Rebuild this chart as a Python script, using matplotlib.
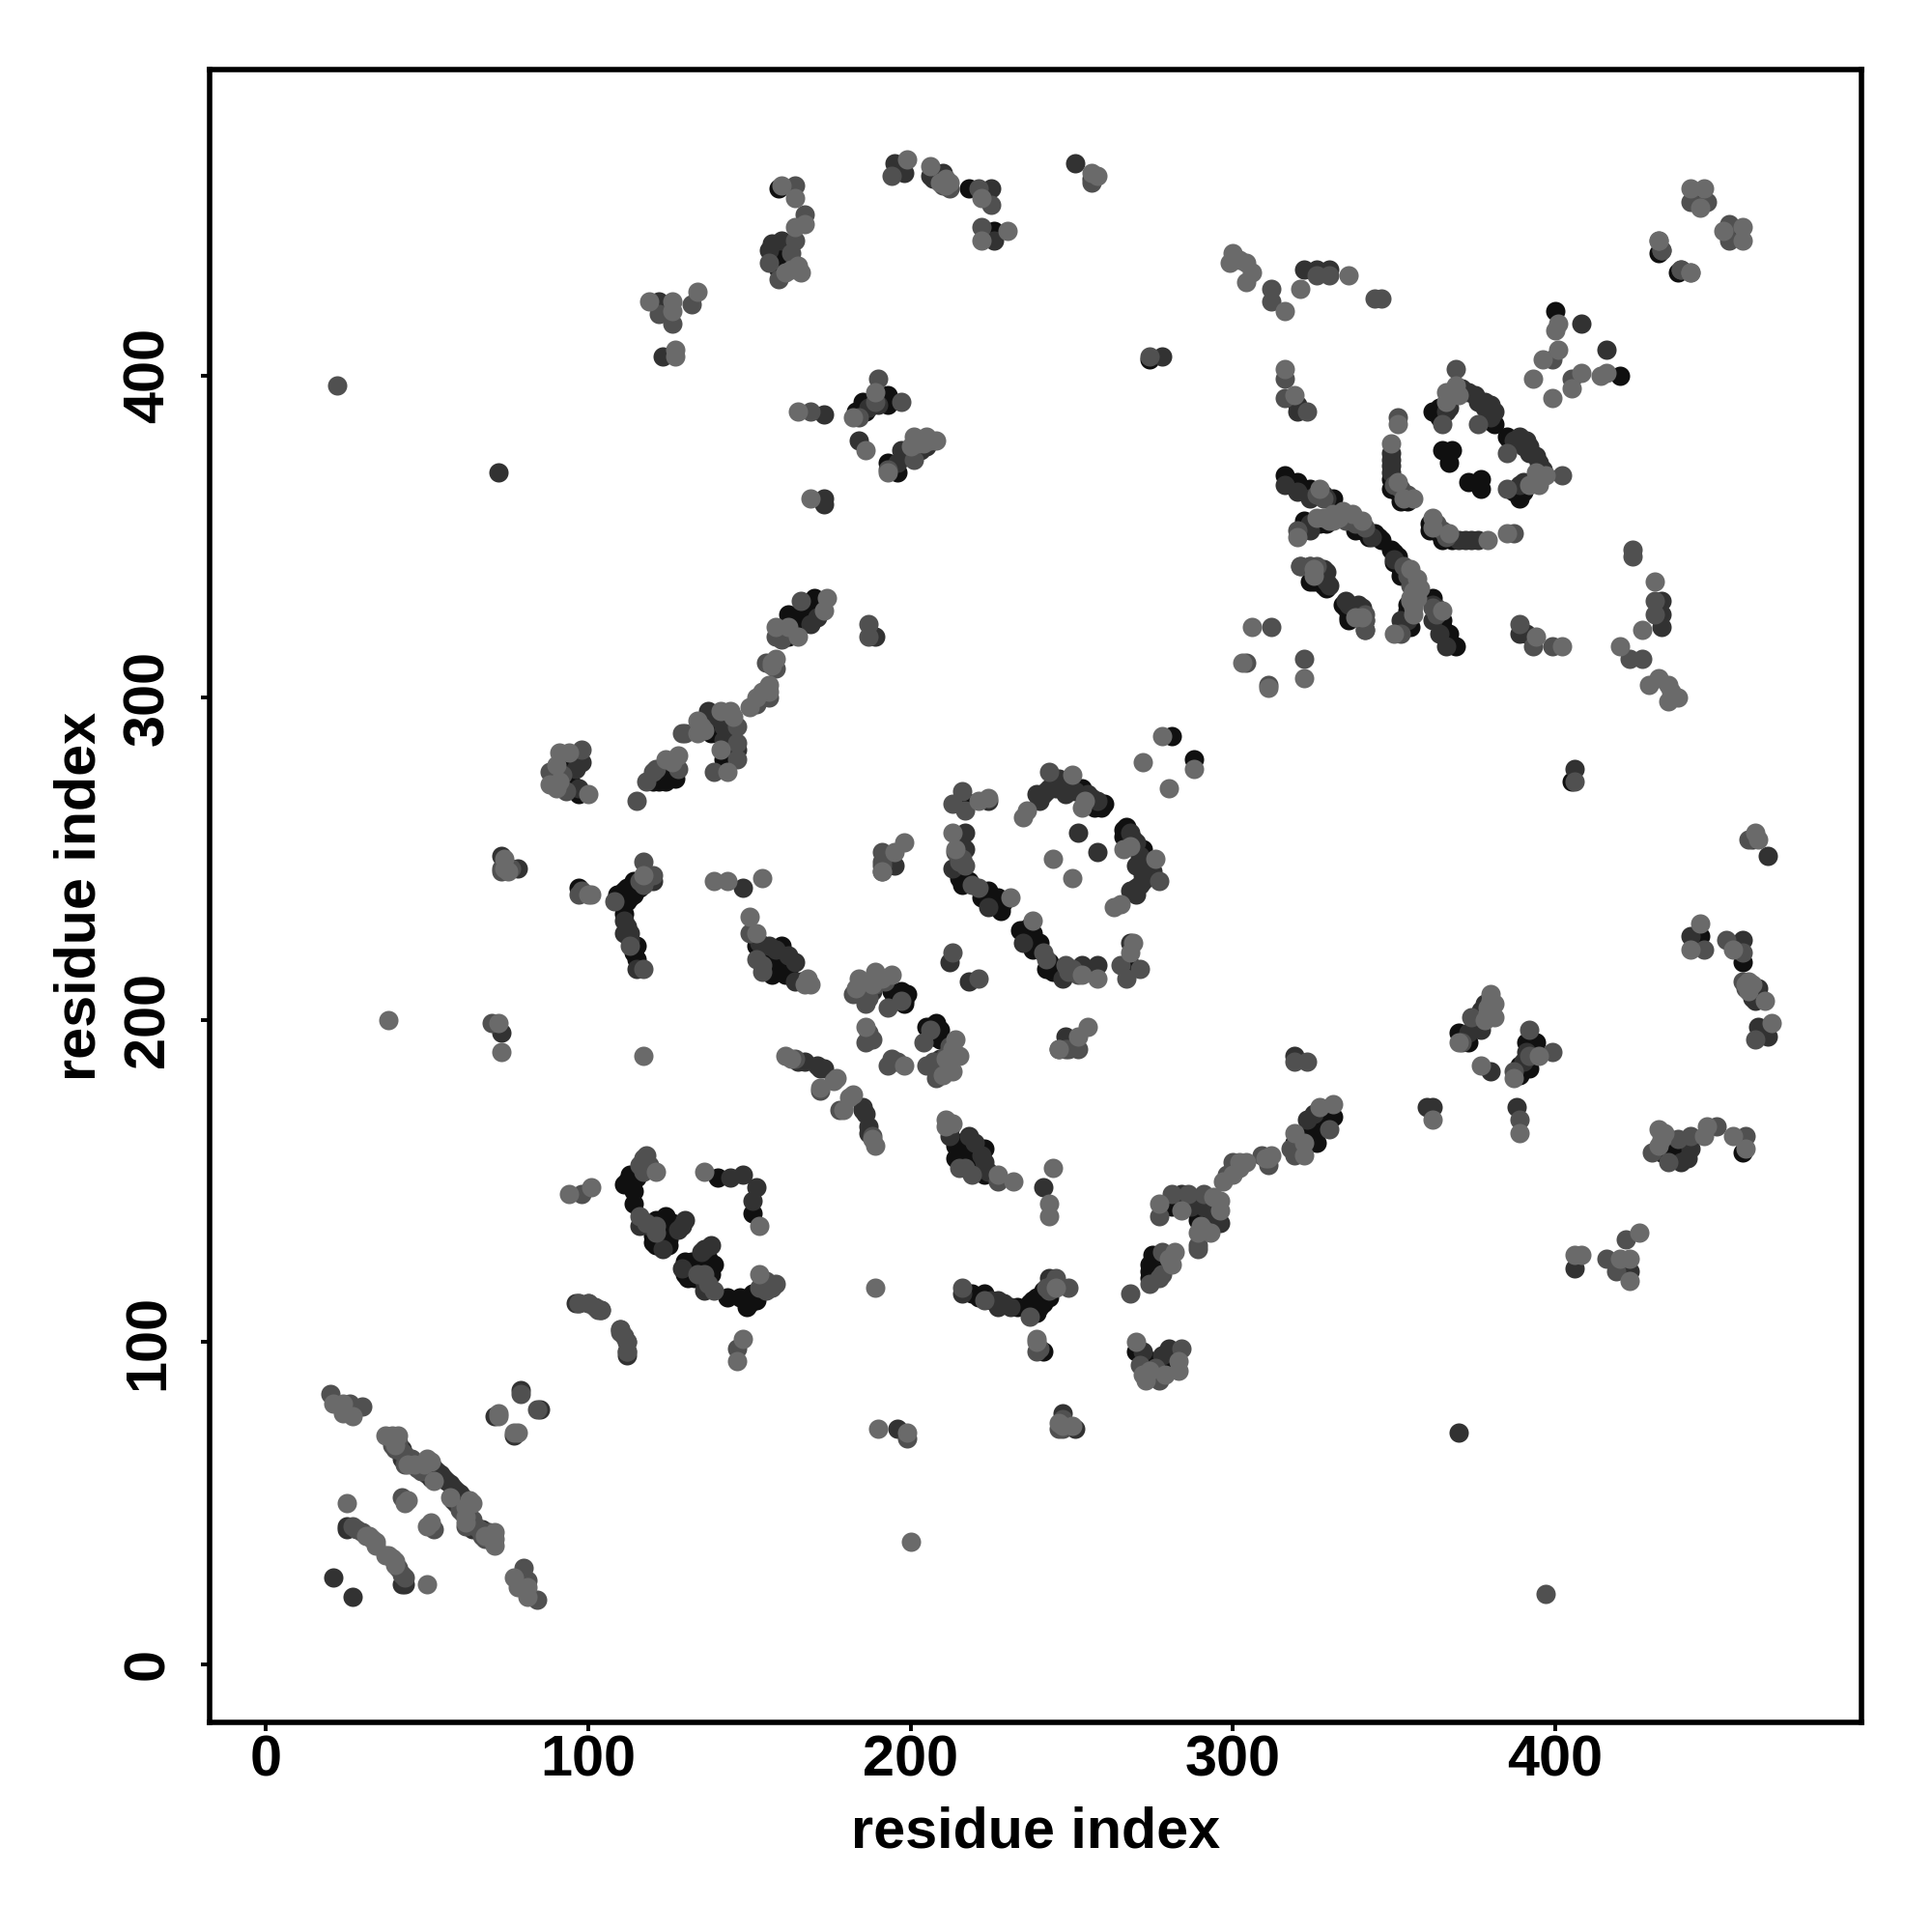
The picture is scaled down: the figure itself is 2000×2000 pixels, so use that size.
import matplotlib
matplotlib.use('Agg')
import matplotlib.pyplot as plt

plt.rcParams['font.family'] = ['Liberation Sans', 'DejaVu Sans']
plt.rcParams['font.weight'] = 'bold'

# contacts as (residue i, residue j) with i < j, the map is symmetric
black_pairs = [(94,280),(94,276),(97,270),(120,274),(124,274),(123,278),(137,292),(138,289),(142,281),
    (162,319),(162,326),(170,331),(169,327),(165,324),(97,241),(114,243),(112,241),(111,240),(109,239),
    (115,241),(113,238),(109,238),(111,233),(115,223),(115,219),(152,223),(156,218),(157,214),(160,223),
    (160,218),(161,214),(281,288),(253,272),(217,268),(215,244),(216,242),(224,240),(227,238),(228,234),
    (260,267),(198,205),(197,209),(194,209),(198,206),(365,377),(368,377),(367,373),(363,389),(365,388),
    (362,389),(380,386),(349,368),(349,365),(352,361),(354,361),(316,369),(320,367),(324,365),(331,362),
    (344,351),(338,352),(327,354),(324,336),(328,335),(335,329),(334,329),(336,325),(159,437),(159,433),
    (159,458),(218,458),(226,445),(193,394),(185,392),(183,389),(193,391),(193,373),(196,370),(111,149),
    (114,143),(115,152),(121,138),(124,139),(125,130),(120,133),(140,151),(113,149),(115,151),(400,420),
    (444,454),(432,438),(274,405),
    (351,364),(364,387),(364,390),(381,385),(318,366),(322,365),(322,355),(323,353),(329,354),(340,352),
    (342,350),(345,350),(346,349),(325,337),(337,328),(338,327),(259,266),(257,266),(218,243),(222,238),
    (225,238),(226,236),(228,235),(229,237),(186,389),(187,391),(188,392),(189,393),(191,393),(184,388),
    (194,372),(112,150),(113,152),(114,147),(122,136),(122,131),(123,131),(126,137),(127,136),(125,132),
    (120,131),(121,130),(122,135),(127,135),(155,220),(158,216),(159,219),(162,215),(110,238),(112,237),
    (114,239),(116,241),(114,221),(95,273),(93,281),(121,275),(122,274),(125,276),(127,275),(139,291),
    (140,289),(144,282),(160,321),(164,321),(166,326),(168,329),(171,329),(195,207),(196,208),(199,208),
    (157,436),(160,435),(161,438)]

dark_pairs = [(98,280),(97,272),(137,296),(142,291),(142,287),(146,284),(169,323),(189,319),(120,243),
    (111,231),(113,227),(111,227),(115,216),(148,241),(195,248),(156,223),(164,218),(164,212),(244,273),
    (241,270),(239,270),(240,268),(249,272),(258,268),(224,268),(217,258),(217,253),(224,235),(252,258),
    (212,218),(185,208),(172,185),(165,187),(173,185),(349,376),(349,372),(367,392),(373,395),(376,392),
    (380,391),(380,387),(320,391),(320,389),(320,364),(316,366),(324,362),(324,354),(324,352),(343,350),
    (328,340),(329,336),(339,329),(195,466),(198,463),(206,462),(210,463),(225,458),(226,442),(251,466),
    (256,461),(160,442),(156,439),(187,390),(190,391),(184,380),(205,378),(197,377),(196,373),(173,362),
    (173,360),(173,388),(122,423),(123,406),(322,433),(326,433),(330,433),(278,406),(408,416),(116,136),
    (130,138),(128,135),(144,151),(71,77),(79,85),(73,196),(73,251),(78,247),(72,370),(25,42),(21,27),
    (42,67),(51,60),(53,60),(52,59),(55,58),(43,25),(213,247),(148,152),
    (112,96),(50,59),(51,58),(42,64),(52,61),(54,59),(56,57),(366,389),(367,390),(371,396),(375,394),
    (378,392),(378,390),(381,389),(328,363),(329,362),(327,338),(330,335),(340,326),(243,272),(242,271),
    (245,272),(246,275),(247,273),(248,270),(251,271),(255,270),(256,269),(216,254),(198,375),(199,376),
    (203,377),(119,136),(129,136),(153,224),(162,220),(158,222),(166,212),(112,229),(113,225),(96,278),
    (139,294),(143,293),(144,288),(138,295),(171,325),(188,209),(207,461),(208,463),(157,441),(349,370),
    (349,374),(123,129),(171,186),(167,187)]

mid_pairs = [(98,284),(88,277),(93,271),(115,268),(120,277),(128,278),(118,274),(129,289),(130,289),(146,291),
    (146,286),(146,281),(139,277),(156,300),(155,311),(158,319),(166,330),(187,323),(187,319),(117,249),
    (120,245),(116,243),(108,237),(113,223),(117,216),(191,252),(191,249),(150,227),(152,219),(154,215),
    (243,277),(216,271),(213,267),(217,265),(215,249),(219,242),(182,208),(186,205),(189,211),(188,194),
    (186,193),(246,191),(248,191),(213,221),(351,387),(352,365),(354,363),(369,402),(365,385),(376,385),
    (316,399),(316,393),(323,389),(320,352),(328,362),(341,353),(321,341),(324,341),(341,324),(341,321),
    (312,322),(304,311),(164,459),(167,450),(164,442),(156,435),(163,438),(159,430),(194,462),(212,458),
    (210,459),(221,458),(225,453),(222,446),(126,416),(122,419),(132,422),(190,399),(197,392),(169,389),
    (201,374),(256,460),(312,427),(312,423),(326,431),(330,431),(344,424),(346,424),(274,406),(399,405),
    (442,454),(447,454),(433,439),(439,433),(118,158),(116,139),(121,134),(22,397),(20,84),
    (26,81),(30,80),(39,68),(40,67),(43,65),(48,60),(28,42),(30,41),(42,52),(70,199),(79,84),(112,97),
    (97,112),(104,110),(98,146),(117,153),(178,172),
    (100,112),(102,111),(110,104),(112,100),(110,103),(98,240),(97,239),(73,247),(76,247),(73,246),
    (158,309),(152,298),(41,69),(42,66),(45,64),(47,61),(43,62),(27,43),(350,366),(326,363),(335,355),
    (338,354),(326,341),(216,250),(214,252),(217,248),(221,241),(184,387),(189,392),(193,371),(116,155),
    (119,155),(117,157),(121,136),(118,137),(154,217),(117,242),(118,244),(119,245),(92,276),(121,278),
    (160,318),(186,210),(187,207),(192,212),(197,206),(184,209),(193,204),(186,206),(187,196),(186,208),
    (164,188)]

light_pairs = [(91,283),(94,283),(90,279),(88,273),(100,270),(124,281),(128,282),(134,293),(134,289),
    (141,296),(144,296),(145,294),(141,284),(143,277),(150,297),(152,300),(156,304),(158,312),(157,311),
    (158,322),(165,319),(174,331),(173,327),(162,322),(117,245),(139,243),(143,243),(154,244),(198,255),
    (195,252),(191,246),(150,232),(152,227),(168,213),(169,211),(278,288),(272,280),(250,276),(254,268),
    (236,265),(235,263),(221,268),(224,269),(213,258),(214,253),(231,238),(244,250),(194,214),(189,215),
    (187,212),(184,213),(186,198),(161,189),(172,179),(177,182),(351,385),(349,379),(351,367),(356,362),
    (369,397),(366,392),(366,395),(316,402),(319,394),(327,365),(320,350),(328,356),(331,357),(331,355),
    (334,358),(337,357),(340,355),(325,340),(338,325),(306,322),(303,311),(160,459),(164,455),(167,447),
    (164,446),(163,433),(166,432),(199,467),(206,465),(212,460),(222,455),(230,445),(222,442),(256,463),
    (258,462),(119,423),(126,423),(126,420),(134,426),(127,408),(127,406),(189,395),(182,387),(165,389),
    (186,377),(208,380),(205,381),(201,381),(200,378),(193,370),(169,362),(300,438),(299,435),(302,436),
    (304,435),(306,432),(304,429),(316,420),(321,427),(336,431),(401,416),(400,414),(401,408),(396,405),
    (393,399),(442,458),(446,458),(445,452),(432,442),(442,432),(121,153),(136,153),(38,200),(117,189),
    (21,81),(24,81),(24,78),(27,77),(37,71),(39,71),(41,71),(44,62),(46,62),(50,64),(25,50),(32,40),
    (34,38),(33,39),(43,50),(44,51),(72,199),(73,190),(72,77),(78,72),(94,146),(101,148),(100,239),(101,239),
    (74,247),(74,250),(75,246),(157,310),(154,302),(156,302),(49,62),(51,63),(52,57),(40,68),(39,70),
    (31,40),(34,37),(353,362),(370,394),(326,356),(330,355),(333,356),(253,266),(202,379),(204,379),(206,380),
    (91,274),(90,272),(126,280),(135,291),(136,290),(183,210),(191,213),(188,211),(190,213),(167,211),
    (209,460),(211,461),(211,459),(161,432),(165,434),(176,181),(163,188)]

gray_levels = ['#101010', '#323232', '#505050', '#6a6a6a']
tick_values = [0, 100, 200, 300, 400]

fig = plt.figure(figsize=(10, 10), dpi=200)
ax = fig.add_axes([217/2000, 1 - 1783/2000, (1927 - 217)/2000, (1783 - 72)/2000])

# each shade is drawn for both triangles of the map
for pairs, gray in zip([black_pairs, dark_pairs, mid_pairs, light_pairs], gray_levels):
    xs = [p[0] for p in pairs] + [p[1] for p in pairs]
    ys = [p[1] for p in pairs] + [p[0] for p in pairs]
    ax.scatter(xs, ys, s=52, c=gray, linewidths=0)

ax.set_xlim(-17.5, 495)
ax.set_ylim(-18, 495)
ax.set_xticks(tick_values)
ax.set_yticks(tick_values)
ax.tick_params(axis='x', length=3.2, width=1.4, labelsize=21.4, pad=1.4)
ax.tick_params(axis='y', length=3.2, width=1.4, labelsize=21.4, pad=9.6)
plt.setp(ax.get_yticklabels(), rotation=90, va='center')
for s in ax.spines.values():
    s.set_linewidth(2.0)

ax.set_xlabel('residue index', fontsize=21.4, fontweight='bold', labelpad=6.6)
ax.set_ylabel('residue index', fontsize=21.4, fontweight='bold', labelpad=5.8)

fig.savefig('out.png', dpi=200)
